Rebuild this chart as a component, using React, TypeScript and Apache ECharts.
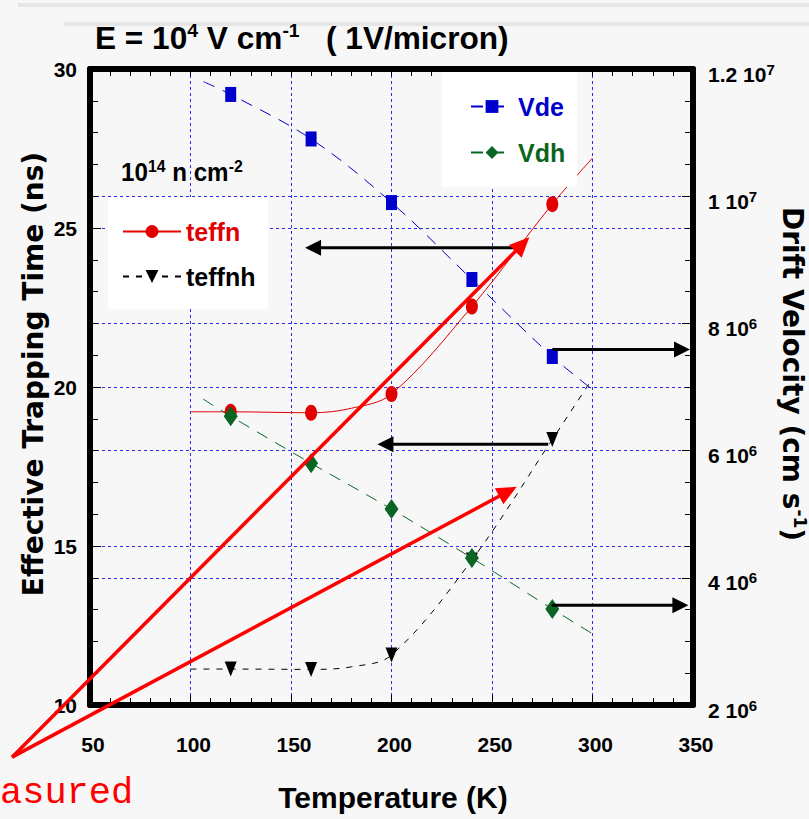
import React, { useEffect, useRef } from 'react';
import * as echarts from 'echarts';

const TEMPS = [120, 160, 200, 240, 280];
const TEFFN = [19.22, 19.19, 19.78, 22.53, 25.75];
const TEFFNH = [11.13, 11.12, 11.57, 14.56, 18.35];
const VDE = [11.6e6, 10.9e6, 9.9e6, 8.69e6, 7.48e6];
const VDH = [6.54e6, 5.8e6, 5.08e6, 4.31e6, 3.51e6];

// ---- points on the fitted curves outside the measured points [T, value] ----
const TEFFN_FIT = [[100, 19.22], [180, 19.33], [300, 27.2]];
const TEFFNH_FIT = [[100, 11.13], [180, 11.2], [300, 20.27]];
const VDE_FIT = [[106.5, 11.8e6], [300, 6.96e6]];
const VDH_FIT = [[106.3, 6.81e6], [300, 3.12e6]];

// ---- axes ----
const X_RANGE = [50, 350];
const Y_LEFT_RANGE = [10, 30];
const Y_RIGHT_RANGE = [2e6, 1.2e7];

// ---- annotation arrows in data coordinates ----
const LEFT_ARROWS = [
  [[261, 24.38], [157, 24.38]],
  [[278, 18.2], [193, 18.2]],
];
const RIGHT_ARROWS = [
  [[280, 7.59e6], [348.5, 7.59e6]],
  [[279.7, 3.57e6], [347.7, 3.57e6]],
];
const RED_ORIGIN = [11.2, 8.36];
const RED_TIPS = [[268.6, 24.71], [262.3, 16.86]];

const FONT = "'Liberation Sans', Arial, sans-serif";
const WIDE = "'DejaVu Sans', Verdana, sans-serif";

function buildData(xs: number[], ys: number[], fit: number[][]) {
  const pts: any[] = xs.map((x, i) => ({ value: [x, ys[i]] }));
  fit.forEach((p) => pts.push({ value: [p[0], p[1]], symbol: 'none' }));
  pts.sort((a, b) => a.value[0] - b.value[0]);
  return pts;
}

function arrow(p0: number[], p1: number[], color: string, lw: number, hl: number, hw: number) {
  const dx = p1[0] - p0[0];
  const dy = p1[1] - p0[1];
  const len = Math.hypot(dx, dy);
  const ux = dx / len;
  const uy = dy / len;
  const bx = p1[0] - ux * hl;
  const by = p1[1] - uy * hl;
  const px = -uy;
  const py = ux;
  return [
    { type: 'line', z: 100, shape: { x1: p0[0], y1: p0[1], x2: bx + ux, y2: by + uy }, style: { stroke: color, lineWidth: lw } },
    {
      type: 'polygon', z: 100,
      shape: { points: [[p1[0], p1[1]], [bx + px * hw, by + py * hw], [bx - px * hw, by - py * hw]] },
      style: { fill: color },
    },
  ];
}

function rightLabel(v: number) {
  const e = Math.floor(Math.log10(v) + 1e-9);
  const m = +(v / Math.pow(10, e)).toFixed(1);
  return `{a|${m} 10}{s|${e}}`;
}

export default function App() {
  const ref = useRef<HTMLDivElement>(null);
  useEffect(() => {
    if (!ref.current) return;
    const chart = echarts.init(ref.current, undefined, { renderer: 'svg' });
    const gridBlue = { color: '#2a2af0', type: [3, 3] as any, width: 1 };
    const axisLine = { show: true, onZero: false, lineStyle: { color: '#000', width: 6 } };
    const option: any = {
      animation: false,
      backgroundColor: '#f7f7f7',
      grid: { left: 90, right: 116, top: 69, bottom: 114, containLabel: false },
      xAxis: [
        {
          type: 'value', min: X_RANGE[0], max: X_RANGE[1], interval: 50, position: 'bottom',
          axisLine,
          axisTick: { show: true, inside: true, length: 10, lineStyle: { color: '#000', width: 1 } },
          minorTick: { show: true, splitNumber: 5, length: 7, lineStyle: { color: '#000', width: 1 } },
          axisLabel: { fontFamily: FONT, fontWeight: 'bold', fontSize: 21, color: '#000', margin: 29, padding: [0, 0, 0, 6] },
          splitLine: { show: true, lineStyle: gridBlue },
        },
        {
          type: 'value', min: X_RANGE[0], max: X_RANGE[1], interval: 50, position: 'top',
          axisLine,
          axisTick: { show: true, inside: true, length: 7, lineStyle: { color: '#000', width: 1 } },
          minorTick: { show: true, splitNumber: 5, length: 7, lineStyle: { color: '#000', width: 1 } },
          axisLabel: { show: false },
          splitLine: { show: false },
        },
      ],
      yAxis: [
        {
          type: 'value', min: Y_LEFT_RANGE[0], max: Y_LEFT_RANGE[1], interval: 5, position: 'left',
          axisLine,
          axisTick: { show: true, inside: true, length: 11, lineStyle: { color: '#000', width: 1 } },
          minorTick: { show: true, splitNumber: 5, length: 8, lineStyle: { color: '#000', width: 1 } },
          axisLabel: { fontFamily: FONT, fontWeight: 'bold', fontSize: 21, color: '#000', margin: 13, padding: [20, 0, 0, 0] },
          splitLine: { show: true, lineStyle: gridBlue },
        },
        {
          type: 'value', min: Y_RIGHT_RANGE[0], max: Y_RIGHT_RANGE[1], interval: 2e6, position: 'right',
          axisLine,
          axisTick: { show: true, inside: true, length: 11, lineStyle: { color: '#000', width: 1 } },
          minorTick: { show: true, splitNumber: 4, length: 8, lineStyle: { color: '#000', width: 1 } },
          axisLabel: {
            margin: 15, formatter: rightLabel, padding: [10, 0, 0, 0],
            rich: {
              a: { fontFamily: FONT, fontWeight: 'bold', fontSize: 21, color: '#000', lineHeight: 25 },
              s: { fontFamily: FONT, fontWeight: 'bold', fontSize: 15, color: '#000', verticalAlign: 'top', lineHeight: 15 },
            },
          },
          splitLine: { show: true, lineStyle: gridBlue },
        },
      ],
      legend: [
        {
          data: [
            { name: 'teffn', textStyle: { color: '#e00000' } },
            { name: 'teffnh', textStyle: { color: '#000' } },
          ],
          orient: 'vertical', left: 108, top: 197, backgroundColor: '#fff',
          padding: [22, 13, 20, 14], itemWidth: 58, itemHeight: 16, itemGap: 20, selectedMode: false,
          textStyle: { fontFamily: FONT, fontWeight: 'bold', fontSize: 25, lineHeight: 24 },
        },
        {
          data: [
            { name: 'Vde', textStyle: { color: '#0000cc' } },
            { name: 'Vdh', textStyle: { color: '#0a6522' } },
          ],
          orient: 'vertical', left: 442, top: 72, backgroundColor: '#fff',
          padding: [22, 12, 22, 28], itemWidth: 42, itemHeight: 16, itemGap: 21, selectedMode: false,
          textStyle: { fontFamily: FONT, fontWeight: 'bold', fontSize: 25, lineHeight: 24 },
        },
      ],
      series: [
        {
          name: 'teffn', type: 'line', xAxisIndex: 0, yAxisIndex: 0,
          data: buildData(TEMPS, TEFFN, TEFFN_FIT), smooth: 0.35,
          symbol: 'circle', symbolSize: [12, 16], showAllSymbol: true,
          lineStyle: { color: '#e00000', width: 1 }, itemStyle: { color: '#e00000' },
        },
        {
          name: 'teffnh', type: 'line', xAxisIndex: 0, yAxisIndex: 0,
          data: buildData(TEMPS, TEFFNH, TEFFNH_FIT), smooth: 0.35,
          symbol: 'path://M0,0 L10,0 L5,12 Z', symbolSize: [12, 15], showAllSymbol: true,
          lineStyle: { color: '#000', width: 1, type: [6, 7] }, itemStyle: { color: '#000' },
        },
        {
          name: 'Vde', type: 'line', xAxisIndex: 0, yAxisIndex: 1,
          data: buildData(TEMPS, VDE, VDE_FIT), smooth: 0.35,
          symbol: 'rect', symbolSize: [11, 15], showAllSymbol: true,
          lineStyle: { color: '#0000cc', width: 1, type: [12, 9] }, itemStyle: { color: '#0000cc' },
        },
        {
          name: 'Vdh', type: 'line', xAxisIndex: 0, yAxisIndex: 1,
          data: buildData(TEMPS, VDH, VDH_FIT), smooth: 0.35,
          symbol: 'diamond', symbolSize: [14, 20], showAllSymbol: true,
          lineStyle: { color: '#0a6522', width: 1, type: [12, 9] }, itemStyle: { color: '#0a6522' },
        },
      ],
    };
    chart.setOption(option);

    const toPx = (p: number[], yi: number) => chart.convertToPixel({ xAxisIndex: 0, yAxisIndex: yi } as any, p) as number[];
    const g: any[] = [
      { type: 'rect', z: -1, shape: { x: 18, y: 3, width: 800, height: 4 }, style: { fill: '#e6e6e6' } },
      { type: 'rect', z: -1, shape: { x: 64, y: 22, width: 760, height: 4 }, style: { fill: '#e6e6e6' } },
      {
        type: 'text', x: 95, y: 39, z: 50, scaleX: 1.02,
        style: {
          text: '{a|E = 10}{s|4}{a| V cm}{s|-1}{a|   ( 1V/micron)}', textVerticalAlign: 'middle',
          rich: {
            a: { fontFamily: FONT, fontWeight: 'bold', fontSize: 31, fill: '#000', lineHeight: 35 },
            s: { fontFamily: FONT, fontWeight: 'bold', fontSize: 19, fill: '#000', verticalAlign: 'top', lineHeight: 19 },
          },
        },
      },
      {
        type: 'text', x: 121, y: 172, z: 50, scaleX: 0.93,
        style: {
          text: '{a|10}{s|14}{a| n cm}{s|-2}', textVerticalAlign: 'middle',
          rich: {
            a: { fontFamily: FONT, fontWeight: 'bold', fontSize: 26, fill: '#000', lineHeight: 30 },
            s: { fontFamily: FONT, fontWeight: 'bold', fontSize: 17, fill: '#000', verticalAlign: 'top', lineHeight: 17 },
          },
        },
      },
      {
        type: 'text', x: 33, y: 374, rotation: Math.PI / 2, z: 50,
        style: {
          text: 'Effective Trapping Time (ns)', fontFamily: WIDE, fontWeight: 'bold', fontSize: 28,
          fill: '#000', textAlign: 'center', textVerticalAlign: 'middle',
        },
      },
      {
        type: 'text', x: 792, y: 374, rotation: -Math.PI / 2, z: 50,
        style: {
          text: '{a|Drift Velocity (cm s}{s|-1}{a|)}', textAlign: 'center', textVerticalAlign: 'middle',
          rich: {
            a: { fontFamily: WIDE, fontWeight: 'bold', fontSize: 28, fill: '#000', lineHeight: 32 },
            s: { fontFamily: WIDE, fontWeight: 'bold', fontSize: 17, fill: '#000', verticalAlign: 'top', lineHeight: 17 },
          },
        },
      },
      {
        type: 'text', x: 393, y: 797, z: 50,
        style: {
          text: 'Temperature (K)', fontFamily: FONT, fontWeight: 'bold', fontSize: 30,
          fill: '#000', textAlign: 'center', textVerticalAlign: 'middle',
        },
      },
      {
        type: 'text', x: 0, y: 793, z: 50,
        style: {
          text: 'asured', fontFamily: "'Liberation Mono', 'Courier New', monospace", fontSize: 37,
          fill: '#ff0000', textAlign: 'left', textVerticalAlign: 'middle',
        },
      },
    ];
    LEFT_ARROWS.forEach((a) => g.push(...arrow(toPx(a[0], 0), toPx(a[1], 0), '#000', 3, 16, 8)));
    RIGHT_ARROWS.forEach((a) => g.push(...arrow(toPx(a[0], 1), toPx(a[1], 1), '#000', 3, 16, 8)));
    RED_TIPS.forEach((t) => g.push(...arrow(toPx(RED_ORIGIN, 0), toPx(t, 0), '#ff0000', 3.5, 20, 9)));
    chart.setOption({ graphic: g });

    return () => chart.dispose();
  }, []);
  return <div ref={ref} style={{ position: 'fixed', left: 0, top: 0, width: 809, height: 819 }} />;
}
